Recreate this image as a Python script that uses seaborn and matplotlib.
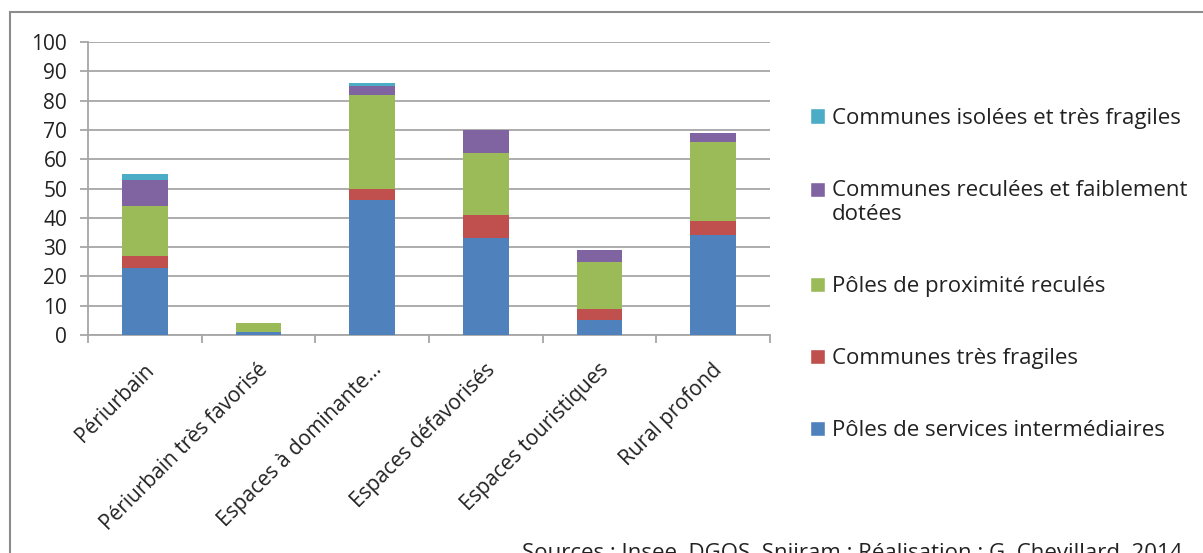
import numpy as np
import pandas as pd
import seaborn as sns
import matplotlib.pyplot as plt
import matplotlib.transforms as mtransforms
from matplotlib.patches import Patch, Rectangle
from matplotlib.legend_handler import HandlerPatch

# categories (x axis)
categories = ["Périurbain", "Périurbain très favorisé", "Espaces à dominante...",
              "Espaces défavorisés", "Espaces touristiques", "Rural profond"]

# series values, bottom to top
poles_services = [23, 1, 46, 33, 5, 34]
communes_fragiles = [4, 0, 4, 8, 4, 5]
poles_proximite = [17, 3, 32, 21, 16, 27]
communes_reculees = [9, 0, 3, 8, 4, 3]
communes_isolees = [2, 0, 1, 0, 0, 0]

series_names = ["Pôles de services intermédiaires", "Communes très fragiles",
                "Pôles de proximité reculés", "Communes reculées et faiblement\ndotées",
                "Communes isolées et très fragiles"]
series_values = [poles_services, communes_fragiles, poles_proximite,
                 communes_reculees, communes_isolees]
colors = ["#4F81BD", "#C0504D", "#9BBB59", "#8064A2", "#4BACC6"]

sns.set_style("white")
plt.rcParams["font.family"] = ["Open Sans", "DejaVu Sans"]

df = pd.DataFrame({"cat": categories})
cum = np.cumsum(np.array(series_values), axis=0)

fig = plt.figure(figsize=(12.03, 5.53), dpi=100)
ax = fig.add_axes([0.0732, 0.3942, 0.5668, 0.5298])

# draw from the top layer down so lower layers cover the upper ones
for i in range(len(series_names) - 1, -1, -1):
    df["v"] = cum[i]
    sns.barplot(data=df, x="cat", y="v", color=colors[i], width=0.4,
                saturation=1, linewidth=0, ax=ax, zorder=3)

ax.set_ylim(0, 100)
ax.set_xlim(-0.5, len(categories) - 0.5)
ax.set_yticks(range(0, 101, 10))
ax.grid(axis="y", color="#a6a6a6", linewidth=1.3, zorder=0)
ax.set_axisbelow(True)
ax.set_xlabel("")
ax.set_ylabel("")

for s in ["top", "right"]:
    ax.spines[s].set_visible(False)
for s in ["left", "bottom"]:
    ax.spines[s].set_color("#a6a6a6")
    ax.spines[s].set_linewidth(1.3)

ax.tick_params(axis="y", left=True, length=6, color="#a6a6a6", width=1.3,
               labelsize=15, pad=9, labelcolor="#222222")
ax.set_xticks(range(len(categories)))
ax.set_xticklabels(categories, rotation=45, ha="right", va="center",
                   rotation_mode="anchor", fontsize=15, color="#222222")
ax.tick_params(axis="x", which="major", length=0, pad=23)
shift = mtransforms.ScaledTranslation(6 / 100, 0, fig.dpi_scale_trans)
for lab in ax.get_xticklabels():
    lab.set_transform(lab.get_transform() + shift)
ax.set_xticks(np.arange(-0.5, len(categories), 1), minor=True)
ax.tick_params(axis="x", which="minor", bottom=True, length=6, color="#a6a6a6", width=1.3)


# legend marker sits next to the first line of a wrapped label
def first_line_patch(legend, orig_handle, xdescent, ydescent, width, height, fontsize):
    lines = orig_handle.get_label().count("\n")
    return Rectangle((-xdescent, -ydescent + lines * 0.6 * fontsize), width, height)


handles = [Patch(facecolor=colors[i], label=series_names[i]) for i in range(len(series_names) - 1, -1, -1)]
fig.legend(handles=handles, loc="upper left", bbox_to_anchor=(0.673, 0.805),
           frameon=False, fontsize=16, labelspacing=2.3, handlelength=0.7,
           handleheight=0.7, handletextpad=0.3, labelcolor="#222222",
           borderaxespad=0, borderpad=0,
           handler_map={Patch: HandlerPatch(patch_func=first_line_patch)})

fig.patches.append(Rectangle((10 / 1203, -0.1), 1.2, 1 - 12 / 553 + 0.1,
                             transform=fig.transFigure, fill=False,
                             edgecolor="#8c8c8c", linewidth=1.5))

fig.text(522 / 1203, 0.0, "Sources : Insee, DGOS, Sniiram ; Réalisation : G. Chevillard, 2014",
         fontsize=16, color="#222222", va="center", ha="left")

fig.savefig("out.png", dpi=100)
